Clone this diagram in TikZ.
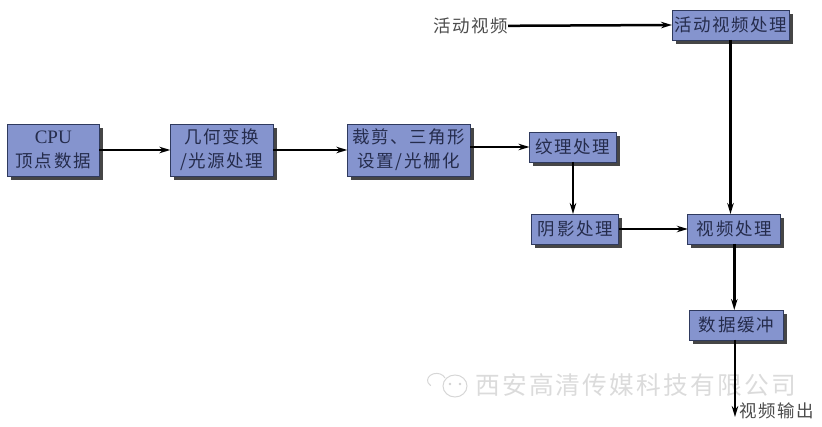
\documentclass[tikz,border=0pt]{standalone}
\usepackage{fontspec}
\setmainfont[LetterSpace=9]{Noto Sans CJK SC}
\newfontfamily\latinfont{Liberation Serif}
\usepackage{tikz}
\usetikzlibrary{positioning, shadows, arrows.meta}

\definecolor{boxblue}{HTML}{8594CE}
\definecolor{boxtext}{HTML}{252C4C}
\definecolor{boxedge}{HTML}{2F3A5E}

\tikzset{
  procbox/.style={rectangle, draw=boxedge, line width=0.8pt, fill=boxblue, text=boxtext,
    align=center, inner sep=0pt, outer sep=0pt, font=\fontsize{17.5}{24}\selectfont,
    drop shadow={shadow xshift=3.5pt, shadow yshift=-4pt, fill=black!85, opacity=.85}},
  link/.style={-{Stealth[length=11pt, width=6.5pt]}, line width=2.5pt, black},
  plainlabel/.style={inner sep=0pt, outer sep=0pt, text=black!70, font=\fontsize{17.5}{24}\selectfont}
}

\begin{document}
\begin{tikzpicture}[x=1pt, y=-1pt]

\useasboundingbox (0,0) rectangle (822,427);

\node (cpu) [procbox, minimum width=92pt, minimum height=52pt] at (53.3,150) {{\latinfont\fontsize{19}{24}\selectfont CPU}\\顶点数据};
\node (geo) [procbox, minimum width=103pt, minimum height=52pt, right=71pt of cpu] {几何变换\\/光源处理};
\node (clip) [procbox, minimum width=123pt, minimum height=52pt, right=74pt of geo] {裁剪、三角形\\设置/光栅化};
\node (tex) [procbox, minimum width=87pt, minimum height=30pt] at (573,147) {纹理处理};
\node (shade) [procbox, minimum width=87pt, minimum height=30pt] at (575.3,229) {阴影处理};
\node (video) [procbox, minimum width=93pt, minimum height=30pt, right=69pt of shade] {视频处理};
\node (buffer) [procbox, minimum width=94pt, minimum height=30pt] at (736.3,325) {数据缓冲};
\node (live) [procbox, minimum width=117pt, minimum height=30pt] at (730.5,25) {活动视频处理};

\node (livein) [plainlabel, anchor=east] at (508,26) {活动视频};
\node (output) [plainlabel, anchor=west] at (739,411) {视频输出};
\coordinate (outend) at (735,417);

% watermark
\node (mark) [inner sep=0pt, text=black!14, anchor=west, font=\fontsize{24.7}{28}\selectfont] at (475,385) {西安高清传媒科技有限公司};
\draw[black!16, line width=1pt] (445,378) arc (20:230:9pt and 7pt);
\draw[black!16, line width=1pt] (455,386) ellipse (12pt and 11pt);
\fill[black!18] (450,384) circle (1.3pt) (460,384) circle (1.3pt);

\draw[link] (cpu) -- (geo);
\draw[link] (geo) -- (clip);
\draw[link] (clip.east |- tex.west) -- (tex.west);
\draw[link] (tex.south) -- (tex.south |- shade.north);
\draw[link] (shade) -- (video);
\draw[link] (live.south) -- (live.south |- video.north);
\draw[link] (video.south) -- (video.south |- buffer.north);
\draw[link] (buffer.south -| outend) -- (outend);
\draw[link] (livein) -- (live.west);

\end{tikzpicture}
\end{document}
